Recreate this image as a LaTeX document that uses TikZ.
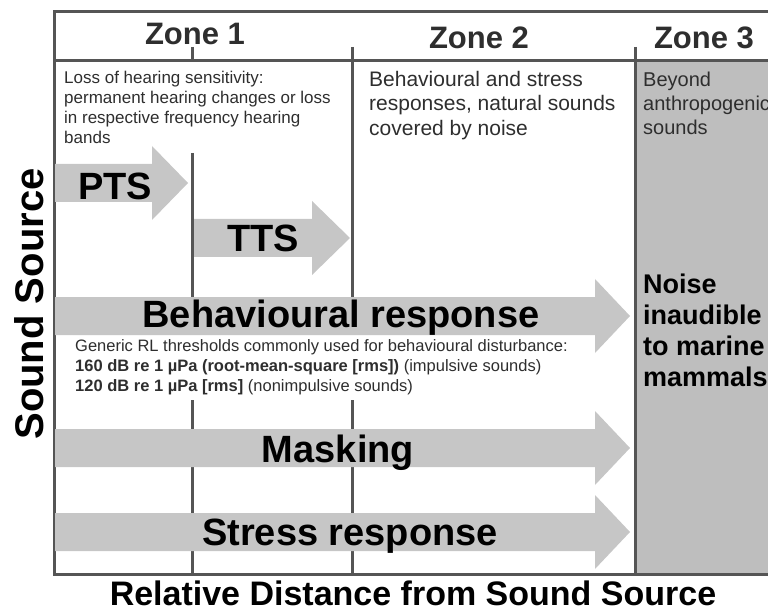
\documentclass[tikz,border=0pt]{standalone}
\usepackage{fontspec}
\setmainfont{Liberation Sans}
\usepackage{xcolor}
\usepackage{tikz}
\usetikzlibrary{
    calc,
    positioning
}
\definecolor{framegray}{HTML}{555555}
\definecolor{arrowgray}{HTML}{C6C6C6}
\definecolor{zonegray}{HTML}{BEBEBE}
\definecolor{labelgray}{HTML}{2E2E2E}
\tikzset{
    zoneline/.style={draw=framegray, line width=3pt},
    zonetitle/.style={anchor=base, text=labelgray, font=\fontsize{31}{36}\selectfont\bfseries},
    zonetext/.style={anchor=north west, align=left, inner sep=0pt, text=labelgray},
    bandlabel/.style={anchor=base, font=\fontsize{38}{44}\selectfont\bfseries}
}
\newcommand{\zonearrow}[4]{% from, head, tip, y
    \fill[arrowgray] (#1,#4-19) -- (#2,#4-19) -- (#2,#4-37) -- (#3,#4)
        -- (#2,#4+37) -- (#2,#4+19) -- (#1,#4+19) -- cycle;
}

\begin{document}
\begin{tikzpicture}[x=1pt, y=-1pt]
        \useasboundingbox (0,0) rectangle (768,612);
        \fill[zonegray] (635,61) rectangle (775,574);
        \draw[zoneline] (775,12) -- (54,12) -- (54,574) -- (775,574);
        \draw[zoneline] (54,61) -- (775,61);
        \draw[zoneline] (192,47) -- (192,61);
        \draw[zoneline] (192,153) -- (192,574);
        \draw[zoneline] (352,47) -- (352,574);
        \draw[zoneline] (635,47) -- (635,574);

        \draw (195,45) node[zonetitle](zoneone){Zone 1};
        \draw (479,49) node[zonetitle](zonetwo){Zone 2};
        \draw (704,49) node[zonetitle](zonethree){Zone 3};

        \draw (64,71) node[zonetext, font=\fontsize{17}{20}\selectfont](lossnote){Loss of hearing sensitivity:\\permanent hearing changes or loss\\in respective frequency hearing\\bands};
        \draw (369,71) node[zonetext, font=\fontsize{21}{24.5}\selectfont](behavenote){Behavioural and stress\\responses, natural sounds\\covered by noise};
        \draw (643,72) node[zonetext, font=\fontsize{20}{24}\selectfont](beyondnote){Beyond\\anthropogenic\\sounds};

        \draw (73,334) node[zonetext, fill=white, inner xsep=2pt, inner ysep=5pt, font=\fontsize{16.5}{20}\selectfont](rlnote){Generic RL thresholds commonly used for behavioural disturbance:\\\textbf{160 dB re 1 µPa (root-mean-square [rms])} (impulsive sounds)\\\textbf{120 dB re 1 µPa [rms]} (nonimpulsive sounds)};

        \zonearrow{55}{152}{188}{183}
        \zonearrow{194}{312}{350}{238}
        \zonearrow{55}{595}{630}{316}
        \zonearrow{55}{595}{630}{448}
        \zonearrow{55}{595}{630}{532}

        \draw (115,200) node[bandlabel](pts){PTS};
        \draw (263,252) node[bandlabel](tts){TTS};
        \draw (341,327) node[bandlabel](behaviour){Behavioural response};
        \draw (338,462) node[bandlabel](masking){Masking};
        \draw (350,545) node[bandlabel](stress){Stress response};

        \draw (643,274) node[zonetext, text=black, font=\fontsize{27}{31}\selectfont\bfseries](inaudible){Noise\\inaudible\\to marine\\mammals};

        \draw (43,304) node[anchor=base, rotate=90, font=\fontsize{40}{44}\selectfont\bfseries](source){Sound Source};
        \draw (413,605) node[anchor=base, inner sep=1pt, font=\fontsize{34}{40}\selectfont\bfseries](distance){Relative Distance from Sound Source};
    \end{tikzpicture}
\end{document}
